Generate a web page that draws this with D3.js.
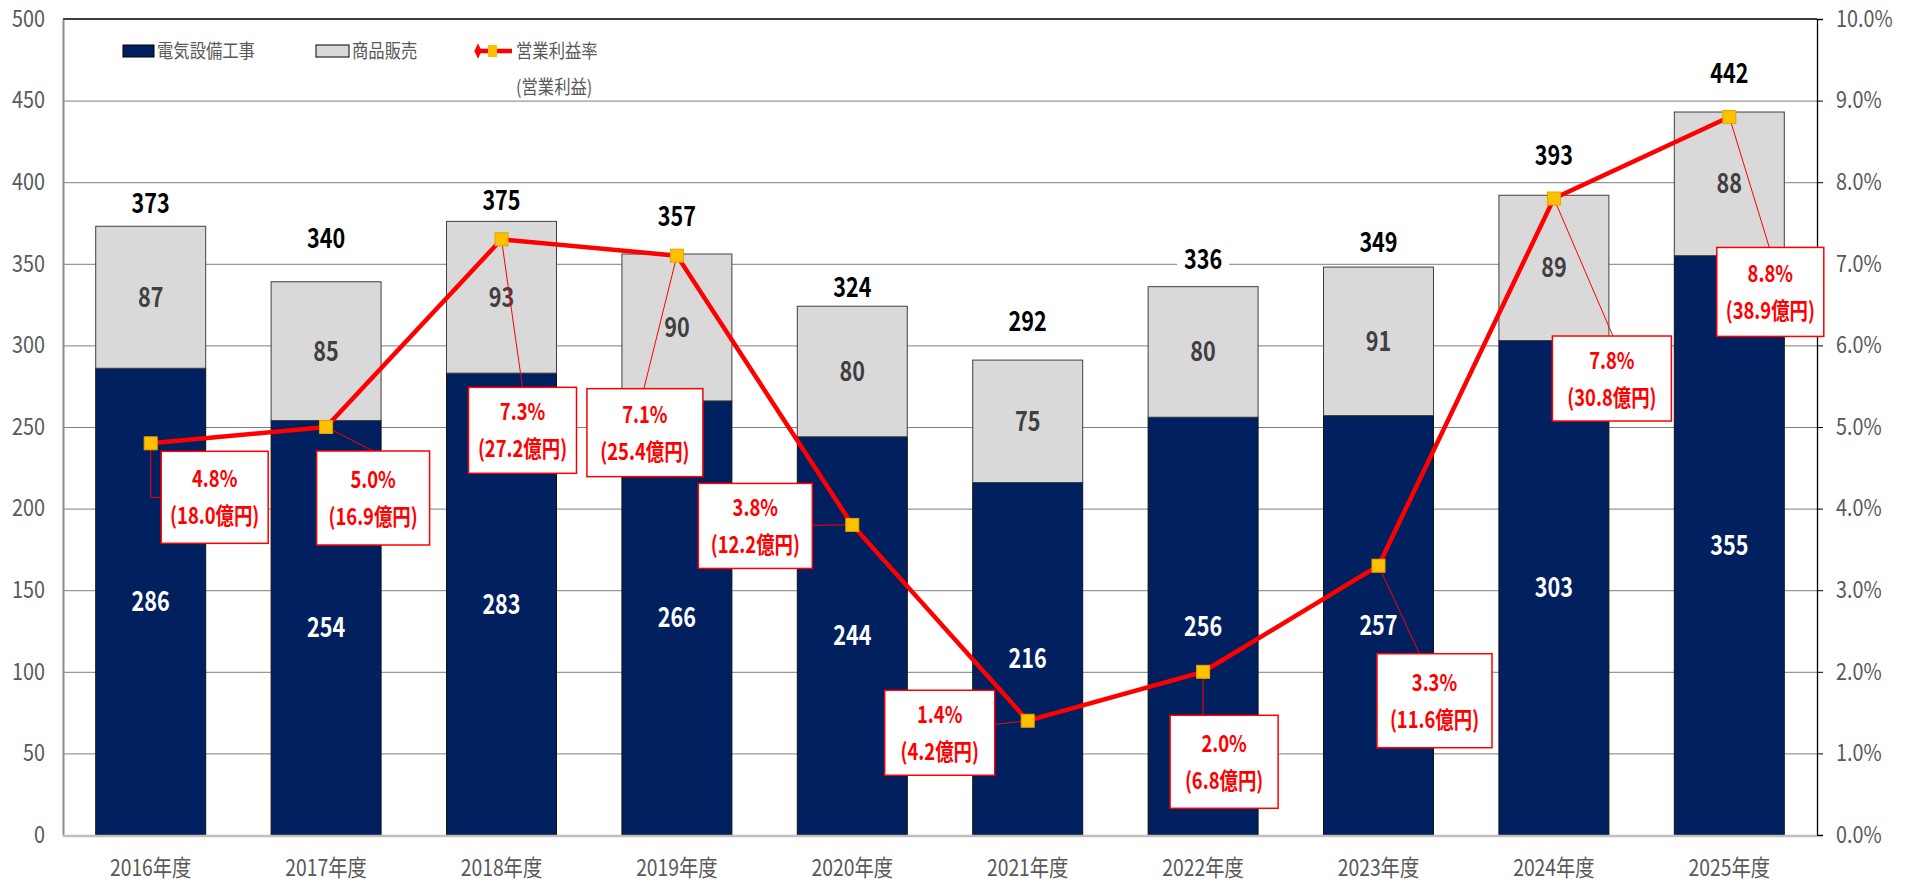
<!DOCTYPE html>
<html><head><meta charset="utf-8">
<script src="https://cdn.jsdelivr.net/npm/d3@7/dist/d3.min.js"></script>
<style>
html,body{margin:0;padding:0;background:#fff;}
svg{display:block;}
text{font-family:'Noto Sans CJK JP','Noto Sans',sans-serif;}
.nc{transform-box:fill-box;transform-origin:center;transform:scaleX(0.84);}
.nl{transform-box:fill-box;transform-origin:left center;transform:scaleX(0.86);}
.nr{transform-box:fill-box;transform-origin:right center;transform:scaleX(0.86);}
.nb{transform-box:fill-box;transform-origin:center;transform:scaleX(0.8);}
</style></head>
<body>
<svg id="chart" width="1910" height="890"></svg>
<script>
// ---- data ----
const categories = ["2016年度","2017年度","2018年度","2019年度","2020年度","2021年度","2022年度","2023年度","2024年度","2025年度"];
const construction = [286,254,283,266,244,216,256,257,303,355];   // 電気設備工事
const sales = [87,85,93,90,80,75,80,91,89,88];                       // 商品販売
const totals = [373,340,375,357,324,292,336,349,393,442];
const marginRate = [4.8,5.0,7.3,7.1,3.8,1.4,2.0,3.3,7.8,8.8];       // 営業利益率 (%)
const operatingProfit = ["18.0","16.9","27.2","25.4","12.2","4.2","6.8","11.6","30.8","38.9"]; // 億円
const leftTicks = [0,50,100,150,200,250,300,350,400,450,500];
const rightTicks = [0,1,2,3,4,5,6,7,8,9,10];
const seriesNames = ["電気設備工事","商品販売","営業利益率","(営業利益)"];

// ---- layout (pixel offsets for annotations) ----
const totalLabelOffset = [23,42,22,36,19,37,27,23,38,40];
// callout box: [centre dx from marker, centre dy from marker, width, height, leader type]
const callouts = [
  [64,54,107,92,"elbow"],[47,71,113,94,"top"],[21,191,108,86,"top"],[-32,177,116,88,"top"],
  [-97,1,114,85,"side"],[-88,12,110,85,"side"],[21,90,108,93,"top"],[56,135,115,94,"top"],
  [58,180,119,85,"top"],[41,175,107,89,"top"]
];
const leaderTarget = [null,[47],[21],[-33],null,null,[0],[41],[59],[40]];

const svg = d3.select("#chart");
const L = 63, R = 1817, T = 19, B = 835;
const x = d3.scaleBand().domain(categories).range([L,R]).paddingInner(0.373).paddingOuter(0.1865);
const y = d3.scaleLinear().domain([0,500]).range([B,T]);
const y2 = d3.scaleLinear().domain([0,10]).range([B,T]);

// gridlines
svg.append("g").attr("transform",`translate(${L},0)`)
  .call(d3.axisLeft(y).tickValues(leftTicks.slice(1,-1)).tickSize(-(R-L)).tickFormat(""))
  .call(g=>{g.select(".domain").remove(); g.selectAll("line").attr("stroke","#7f7f7f").attr("stroke-width",1);});
// top border
svg.append("line").attr("x1",L).attr("x2",R).attr("y1",T).attr("y2",T).attr("stroke","#000").attr("stroke-width",1.3);

// bars
const gBars = svg.append("g");
categories.forEach((c,i)=>{
  gBars.append("rect").attr("x",x(c)).attr("width",x.bandwidth())
    .attr("y",y(construction[i])).attr("height",y(0)-y(construction[i]))
    .attr("fill","#002060").attr("stroke","#111").attr("stroke-width",1);
  gBars.append("rect").attr("x",x(c)).attr("width",x.bandwidth())
    .attr("y",y(construction[i]+sales[i])).attr("height",y(construction[i])-y(construction[i]+sales[i]))
    .attr("fill","#d9d9d9").attr("stroke","#404040").attr("stroke-width",1);
});

// axes
svg.append("g").attr("transform",`translate(${L},0)`)
  .call(d3.axisLeft(y).tickValues(leftTicks).tickSize(0).tickPadding(18))
  .call(g=>{g.select(".domain").attr("stroke","#8c8c8c").attr("stroke-width",2);
    g.selectAll("text").attr("class","nr").attr("fill","#595959").attr("font-size",23).attr("font-family","'Noto Sans CJK JP',sans-serif");});
svg.append("g").attr("transform",`translate(${R},0)`)
  .call(d3.axisRight(y2).tickValues(rightTicks).tickSize(6).tickPadding(13).tickFormat(d=>d.toFixed(1)+"%"))
  .call(g=>{g.select(".domain").attr("stroke","#000").attr("stroke-width",1.3);
    g.selectAll("line").attr("stroke","#000");
    g.selectAll("text").attr("class","nl").attr("fill","#595959").attr("font-size",23).attr("font-family","'Noto Sans CJK JP',sans-serif");});
svg.append("line").attr("x1",L).attr("x2",R).attr("y1",B+1).attr("y2",B+1).attr("stroke","#bfbfbf").attr("stroke-width",2.5);

// category labels
svg.append("g").selectAll("text").data(categories).join("text").attr("class","nc")
  .attr("x",d=>x(d)+x.bandwidth()/2).attr("y",868).attr("dy","0.35em")
  .attr("text-anchor","middle").attr("font-size",23).attr("fill","#595959").text(d=>d);

// inner labels
categories.forEach((c,i)=>{
  const cx = x(c)+x.bandwidth()/2;
  svg.append("text").attr("class","nb").attr("x",cx).attr("y",y(construction[i]/2)).attr("dy","0.35em")
    .attr("text-anchor","middle").attr("font-size",27).attr("font-weight","bold").attr("fill","#fff").text(construction[i]);
  svg.append("text").attr("class","nb").attr("x",cx).attr("y",y(construction[i]+sales[i]/2)).attr("dy","0.35em")
    .attr("text-anchor","middle").attr("font-size",27).attr("font-weight","bold").attr("fill","#404040").text(sales[i]);
  const ty = y(totals[i]) - totalLabelOffset[i];
  svg.append("rect").attr("x",cx-26).attr("y",ty-14).attr("width",52).attr("height",28).attr("fill","#fff");
  svg.append("text").attr("class","nb").attr("x",cx).attr("y",ty).attr("dy","0.35em")
    .attr("text-anchor","middle").attr("font-size",27).attr("font-weight","bold").attr("fill","#000").text(totals[i]);
});

// line
const pts = categories.map((c,i)=>[x(c)+x.bandwidth()/2, y2(marginRate[i])]);
svg.append("path").attr("d",d3.line()(pts)).attr("fill","none").attr("stroke","#ff0000").attr("stroke-width",4.5);

// callouts
const gC = svg.append("g");
pts.forEach((p,i)=>{
  const [dx,dy,w,h,type] = callouts[i];
  const cx = p[0]+dx, cy = p[1]+dy;
  const bx = cx-w/2, by = cy-h/2;
  let path;
  if(type==="elbow") path = `M${p[0]},${p[1]}V${cy}H${bx}`;
  else if(type==="top") path = `M${p[0]},${p[1]}L${p[0]+leaderTarget[i][0]},${by}`;
  else path = `M${p[0]},${p[1]}L${bx+w},${p[1]+ (cy-p[1])*0.3}`;
  gC.append("path").attr("d",path).attr("fill","none").attr("stroke","#ff0000").attr("stroke-width",1);
  gC.append("rect").attr("x",bx).attr("y",by).attr("width",w).attr("height",h)
    .attr("fill","#fff").attr("stroke","#ff0000").attr("stroke-width",1.5);
  gC.append("text").attr("class","nb").attr("x",cx).attr("y",cy-18).attr("dy","0.35em").attr("text-anchor","middle")
    .attr("font-size",23).attr("font-weight","bold").attr("fill","#ff0000").text(marginRate[i].toFixed(1)+"%");
  gC.append("text").attr("class","nb").attr("x",cx).attr("y",cy+19).attr("dy","0.35em").attr("text-anchor","middle")
    .attr("font-size",23).attr("font-weight","bold").attr("fill","#ff0000").text("("+operatingProfit[i]+"億円)");
});
// markers
svg.append("g").selectAll("rect").data(pts).join("rect")
  .attr("x",d=>d[0]-6.5).attr("y",d=>d[1]-6.5).attr("width",13).attr("height",13)
  .attr("fill","#ffc000").attr("stroke","#e6a100").attr("stroke-width",1);

// legend
const lg = svg.append("g");
lg.append("rect").attr("x",123).attr("y",45).attr("width",31).attr("height",12).attr("fill","#002060").attr("stroke","#000");
lg.append("text").attr("class","nl").attr("x",157).attr("y",51).attr("dy","0.35em").attr("font-size",19).attr("fill","#595959").text(seriesNames[0]);
lg.append("rect").attr("x",316).attr("y",45).attr("width",33).attr("height",12).attr("fill","#d9d9d9").attr("stroke","#000");
lg.append("text").attr("class","nl").attr("x",352).attr("y",51).attr("dy","0.35em").attr("font-size",19).attr("fill","#595959").text(seriesNames[1]);
lg.append("line").attr("x1",476).attr("x2",512).attr("y1",51).attr("y2",51).attr("stroke","#ff0000").attr("stroke-width",4.5);
lg.append("path").attr("d",d3.symbol(d3.symbolDiamond,70)()).attr("transform","translate(478,51) scale(0.8,1)").attr("fill","#ff0000");
lg.append("rect").attr("x",488).attr("y",45).attr("width",9).attr("height",12).attr("fill","#ffc000");
lg.append("text").attr("class","nl").attr("x",516).attr("y",51).attr("dy","0.35em").attr("font-size",19).attr("fill","#595959").text(seriesNames[2]);
lg.append("text").attr("class","nl").attr("x",516).attr("y",87).attr("dy","0.35em").attr("font-size",19).attr("fill","#595959").text(seriesNames[3]);
</script>
</body></html>
